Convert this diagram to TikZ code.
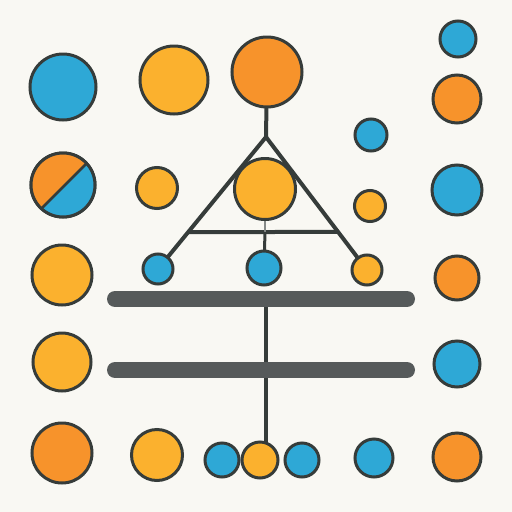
\documentclass[tikz,border=0pt]{standalone}
\usetikzlibrary{calc}
\definecolor{cblue}{HTML}{2EA8D6}
\definecolor{cyel}{HTML}{FBB12E}
\definecolor{corg}{HTML}{F7932B}
\definecolor{edgec}{HTML}{363C3A}
\definecolor{barc}{HTML}{565A5A}
\definecolor{bgc}{HTML}{F9F8F3}
\pgfdeclarelayer{bg}
\pgfsetlayers{bg,main}
\begin{document}
\begin{tikzpicture}[x=1pt,y=-1pt,
  dot/.style={circle,draw=edgec,line width=3pt,inner sep=0pt,outer sep=0pt,minimum size=#1},
  bl/.style={dot=#1,fill=cblue},
  ye/.style={dot=#1,fill=cyel},
  og/.style={dot=#1,fill=corg},
  link/.style={draw=edgec,line width=4pt},
  thin link/.style={draw=edgec!60,line width=1.5pt},
  barline/.style={draw=barc,line width=16pt,line cap=round}]
\useasboundingbox (0,0) rectangle (512,512);
% left column
\node[bl=66pt] (L1) at (63,87) {};
\node[dot=64pt] (L2) at (63,185) {};
\node[ye=60pt] (L3) at (62,275) {};
\node[ye=58pt] (L4) at (62,362) {};
\node[og=60pt] (L5) at (62,453) {};
% second column
\node[ye=68pt] (M1) at (174,80) {};
\node[ye=41pt] (M2) at (157,188) {};
\node[ye=51pt] (M3) at (157,455) {};
% centre
\node[og=70pt] (T) at (267,72) {};
\node[ye=61pt] (C) at (265,189) {};
\node[bl=34pt] (CB) at (264,268) {};
\node[bl=30pt] (LB) at (158,269) {};
\node[ye=30pt] (RY) at (367,270) {};
% bottom row
\node[bl=34pt] (B1) at (222,460) {};
\node[bl=34pt] (B3) at (302,460) {};
\node[ye=36pt] (B2) at (260,460) {};
\node[bl=38pt] (B4) at (374,458) {};
% right-centre
\node[bl=32pt] (S1) at (371,135) {};
\node[ye=31pt] (S2) at (370,206) {};
% right column
\node[bl=36pt] (R1) at (458,39) {};
\node[og=48pt] (R2) at (457,99) {};
\node[bl=50pt] (R3) at (457,190) {};
\node[og=44pt] (R4) at (457,278) {};
\node[bl=46pt] (R5) at (457,364) {};
\node[og=48pt] (R6) at (457,457) {};
% split circle
\begin{scope}
  \clip (L2.center) circle[radius=32pt];
  \fill[cblue] (L2.center) circle[radius=33pt];
  \fill[corg] (89,161) -- (40,210) -- (0,150) -- (60,120) -- cycle;
  \draw[edgec,line width=2.5pt] (89,161) -- (40,210);
\end{scope}
\draw[edgec,line width=3pt] (L2.center) circle[radius=32pt];
% coordinates
\coordinate (apex) at (266,137);
\coordinate (hl) at ($(apex)!0.72!(LB)$);
\coordinate (hr) at ($(apex)!0.714!(RY)$);
\coordinate (hm) at (265,232);
\coordinate (b1l) at (115,299);
\coordinate (b1r) at (407,299);
\coordinate (b2l) at (115,370);
\coordinate (b2r) at (407,370);
\coordinate (v1) at (266,299);
\begin{pgfonlayer}{bg}
  \fill[bgc] (0,0) rectangle (512,512);
  \draw[link] (T) -- (apex);
  \draw[link,line join=miter] (LB.center) -- (apex) -- (RY.center);
  \draw[link] (hl) -- (hr);
  \draw[thin link] (C) -- (hm);
  \draw[draw=edgec,line width=3pt] (hm) -- (CB);
  \draw[link,line width=3.5pt] (v1) -- (v1 |- B2.center);
  \draw[barline] (b1l) -- (b1r);
  \draw[barline] (b2l) -- (b2r);
\end{pgfonlayer}
\end{tikzpicture}
\end{document}
